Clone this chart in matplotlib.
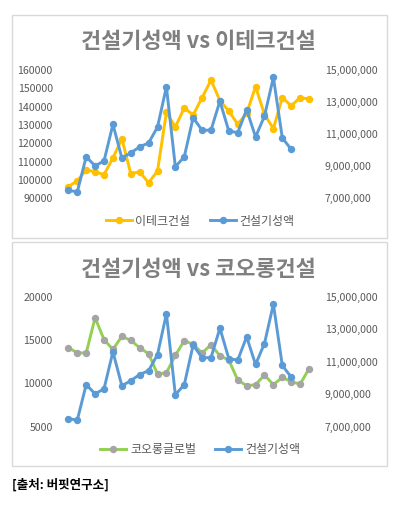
import matplotlib
matplotlib.use("Agg")
import matplotlib.pyplot as plt
from matplotlib.patches import Rectangle
from matplotlib.ticker import FuncFormatter

plt.rcParams['font.family'] = ['Noto Sans CJK KR', 'DejaVu Sans']

# ---- data ----
etec = [96400, 99500, 105500, 104500, 102900, 112000, 122500, 103500, 104400, 98500,
        104900, 136900, 128900, 139300, 135500, 144900, 154500, 143300, 137600, 130400,
        136400, 150900, 135800, 128000, 144900, 140500, 144900, 144200]
kolon = [14100, 13540, 13500, 17580, 15040, 13920, 15420, 14960, 14110, 13420,
         11080, 11230, 13230, 14920, 14500, 13500, 14460, 13190, 12690, 10390,
         9730, 9850, 10960, 9850, 10690, 10190, 9920, 11690]
construction = [7500000, 7400000, 9590000, 9020000, 9330000, 11610000, 9520000, 9830000,
                10210000, 10450000, 11440000, 13950000, 8970000, 9580000, 12030000, 11240000,
                11250000, 13060000, 11190000, 11100000, 12530000, 10830000, 12120000, 14540000,
                10770000, 10050000]

title1 = "건설기성액 vs 이테크건설"
title2 = "건설기성액 vs 코오롱건설"
name_etec = "이테크건설"
name_kolon = "코오롱글로벌"
name_con = "건설기성액"
source = "[출처: 버핏연구소]"

left_ticks1 = [90000, 100000, 110000, 120000, 130000, 140000, 150000, 160000]
left_ticks2 = [5000, 10000, 15000, 20000]
right_ticks = [7000000, 9000000, 11000000, 13000000, 15000000]

YELLOW = "#FFC000"
BLUE = "#5B9BD5"
GREEN = "#92D050"
GRAYM = "#A5A5A5"
TXT = "#595959"
TITLE = "#7F7F7F"

W, H = 396, 507
fig = plt.figure(figsize=(W / 100, H / 100), dpi=100)

def fx(px):
    return px / W

def fy(py):
    return 1 - py / H

# panels
for top, bot in [(15, 238), (241.7, 466)]:
    fig.add_artist(Rectangle((fx(11.7), fy(bot)), fx(386.7) - fx(11.7), fy(top) - fy(bot),
                             transform=fig.transFigure, fill=False, edgecolor="#D9D9D9", lw=1.0))

comma = FuncFormatter(lambda v, p: f"{int(v):,}")

def make(ytop, ybot, series, color, mcolor, name, lticks, title, title_y, leg_y):
    ax = fig.add_axes([fx(63.9), fy(ybot), fx(313.5) - fx(63.9), fy(ytop) - fy(ybot)])
    ax2 = ax.twinx()
    xs = list(range(len(series)))
    xb = list(range(len(construction)))
    l1, = ax.plot(xs, series, color=color, lw=2.1, marker="o", ms=4.3,
                  markerfacecolor=mcolor, markeredgecolor=mcolor, label=name)
    l2, = ax2.plot(xb, construction, color=BLUE, lw=2.1, marker="o", ms=4.3,
                   markerfacecolor=BLUE, markeredgecolor=BLUE, label=name_con)
    ax.set_xlim(-0.5, len(series) - 0.5)
    ax.set_ylim(lticks[0], lticks[-1])
    ax.set_yticks(lticks)
    ax2.set_ylim(right_ticks[0], right_ticks[-1])
    ax2.set_yticks(right_ticks)
    ax2.yaxis.set_major_formatter(comma)
    ax.set_xticks([])
    for a in (ax, ax2):
        for s in a.spines.values():
            s.set_visible(False)
        a.tick_params(axis="y", length=0, labelsize=7.6, labelcolor=TXT, pad=8)
    ax.patch.set_visible(False)
    fig.text(0.5, fy(title_y), title, ha="center", va="center", fontsize=15.8,
             fontweight="bold", color=TITLE)
    fig.legend(handles=[l1, l2], loc="center", bbox_to_anchor=(fx(200), fy(leg_y)),
               ncol=2, frameon=False, fontsize=8.6, labelcolor=TXT,
               handlelength=2.2, columnspacing=1.6, handletextpad=0.3)
    return ax, ax2

make(70, 198.3, etec, YELLOW, YELLOW, name_etec, left_ticks1, title1, 41.7, 221)
make(296.7, 426.7, kolon, GREEN, GRAYM, name_kolon, left_ticks2, title2, 269, 450)

fig.text(fx(11.7), fy(485), source, ha="left", va="center", fontsize=9,
         fontweight="bold", color="black")

fig.savefig("out.png", dpi=100)
